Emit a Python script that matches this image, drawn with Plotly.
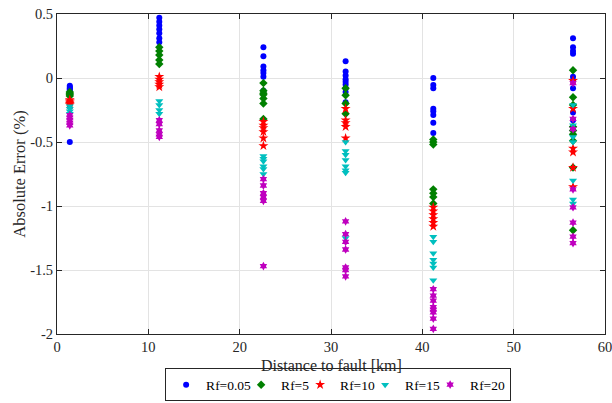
import plotly.graph_objects as go

# Fault distances (km) at which the location error was evaluated
distances = [1.4, 11.2, 22.6, 31.6, 41.2, 56.5]

# Absolute error (%) per fault resistance, one list per distance
err_rf005 = [
    [-0.06, -0.07, -0.08, -0.09, -0.10, -0.50],
    [0.47, 0.44, 0.41, 0.38, 0.35, 0.31, 0.28],
    [0.24, 0.17, 0.09, 0.06, 0.04, 0.01, -0.10],
    [0.13, 0.05, 0.02, -0.01, -0.03, -0.05, -0.08, -0.11, -0.19],
    [0.00, -0.055, -0.08, -0.24, -0.26, -0.29, -0.35, -0.43],
    [0.31, 0.24, 0.21, 0.19, 0.01, -0.02, -0.08, -0.27, -0.33],
]
err_rf5 = [
    [-0.11, -0.12, -0.13, -0.14],
    [0.24, 0.21, 0.18, 0.14, 0.11],
    [-0.04, -0.10, -0.12, -0.13, -0.16, -0.20, -0.32],
    [-0.08, -0.135, -0.20, -0.28],
    [-0.48, -0.50, -0.52, -0.87, -0.90, -0.93, -0.98],
    [0.06, -0.15, -0.21, -0.38, -0.41, -0.44, -0.49, -0.70, -1.19],
]
err_rf10 = [
    [-0.17, -0.18, -0.19, -0.20, -0.21],
    [0.01, -0.01, -0.03, -0.05, -0.07],
    [-0.34, -0.37, -0.39, -0.42, -0.47, -0.53],
    [-0.24, -0.33, -0.35, -0.38, -0.47],
    [-1.01, -1.04, -1.07, -1.10, -1.13, -1.16],
    [-0.02, -0.24, -0.55, -0.58, -0.70, -0.85],
]
err_rf15 = [
    [-0.22, -0.24, -0.26, -0.28],
    [-0.18, -0.21, -0.25, -0.28],
    [-0.61, -0.63, -0.65, -0.69, -0.71, -0.75],
    [-0.50, -0.57, -0.60, -0.64, -0.69, -0.72, -0.74, -1.25],
    [-1.24, -1.28, -1.37, -1.42, -1.45, -1.48, -1.58],
    [-0.21, -0.37, -0.46, -0.50, -0.80, -0.95, -0.98],
]
err_rf20 = [
    [-0.29, -0.31, -0.33, -0.35, -0.37],
    [-0.33, -0.36, -0.41, -0.44, -0.46],
    [-0.79, -0.84, -0.90, -0.93, -0.96, -1.47],
    [-1.12, -1.22, -1.28, -1.34, -1.48, -1.50, -1.55],
    [-1.65, -1.70, -1.74, -1.79, -1.81, -1.83, -1.88, -1.96],
    [-0.04, -0.32, -0.40, -0.87, -1.01, -1.13, -1.24, -1.29],
]

series_names = ["Rf=0.05", "Rf=5", "Rf=10", "Rf=15", "Rf=20"]
x_ticks = [0, 10, 20, 30, 40, 50, 60]
y_ticks = [-2, -1.5, -1, -0.5, 0, 0.5]
y_tick_labels = ["-2", "-1.5", "-1", "-0.5", "0", "0.5"]
x_title = "Distance to fault [km]"
y_title = "Absolute Error (%)"

SERIF = "Liberation Serif"
INK = "#262626"

# marker style and legend entry width for each resistance
styles = [
    dict(symbol="circle", size=6, color="#0000ff", lw=30),
    dict(symbol="diamond", size=6.5, color="#008000", lw=14),
    dict(symbol="star", size=7.5, color="#ff0000", lw=20),
    dict(symbol="triangle-down", size=7, color="#00bfbf", lw=20),
    dict(symbol="hexagram", size=6.5, color="#bf00bf", lw=35),
]

fig = go.Figure()
for name, errs, st in zip(series_names,
                          [err_rf005, err_rf5, err_rf10, err_rf15, err_rf20],
                          styles):
    xs, ys = [], []
    for d, vals in zip(distances, errs):
        xs += [d] * len(vals)
        ys += vals
    fig.add_trace(go.Scatter(
        x=xs, y=ys, mode="markers", name=name, legendwidth=st["lw"],
        marker=dict(symbol=st["symbol"], size=st["size"], color=st["color"],
                    line=dict(width=0)),
    ))

axis_common = dict(
    showline=True, linecolor=INK, linewidth=1, mirror="ticks",
    ticks="inside", ticklen=5, tickcolor=INK,
    showgrid=True, gridcolor="#e3e3e3", gridwidth=1, zeroline=False,
    tickfont=dict(family=SERIF, size=14.5, color=INK),
)

fig.update_xaxes(range=[0, 60], tickvals=x_ticks, automargin=False,
                 ticklabeloverflow="allow",
                 **axis_common)
fig.update_yaxes(range=[-2, 0.5], tickvals=y_ticks, ticktext=y_tick_labels,
                 title=dict(text=y_title,
                            font=dict(family=SERIF, size=16.5, color=INK),
                            standoff=0),
                 **axis_common)

# x-axis title sits just under the tick labels
fig.add_annotation(text=x_title, xref="paper", yref="paper",
                   x=0.5, y=-0.097, xanchor="center", yanchor="middle",
                   showarrow=False,
                   font=dict(family=SERIF, size=16, color=INK))

fig.update_layout(
    width=612, height=403,
    margin=dict(l=57, r=6, t=12, b=69),
    plot_bgcolor="white", paper_bgcolor="white",
    font=dict(family=SERIF, color=INK),
    showlegend=True,
    legend=dict(orientation="h", x=0.513, xanchor="center",
                yref="container", y=0.004, yanchor="bottom",
                bordercolor=INK, borderwidth=1, bgcolor="white",
                font=dict(family=SERIF, size=13.5, color="#000000"),
                itemwidth=30),
)

fig.write_html("out.html")
